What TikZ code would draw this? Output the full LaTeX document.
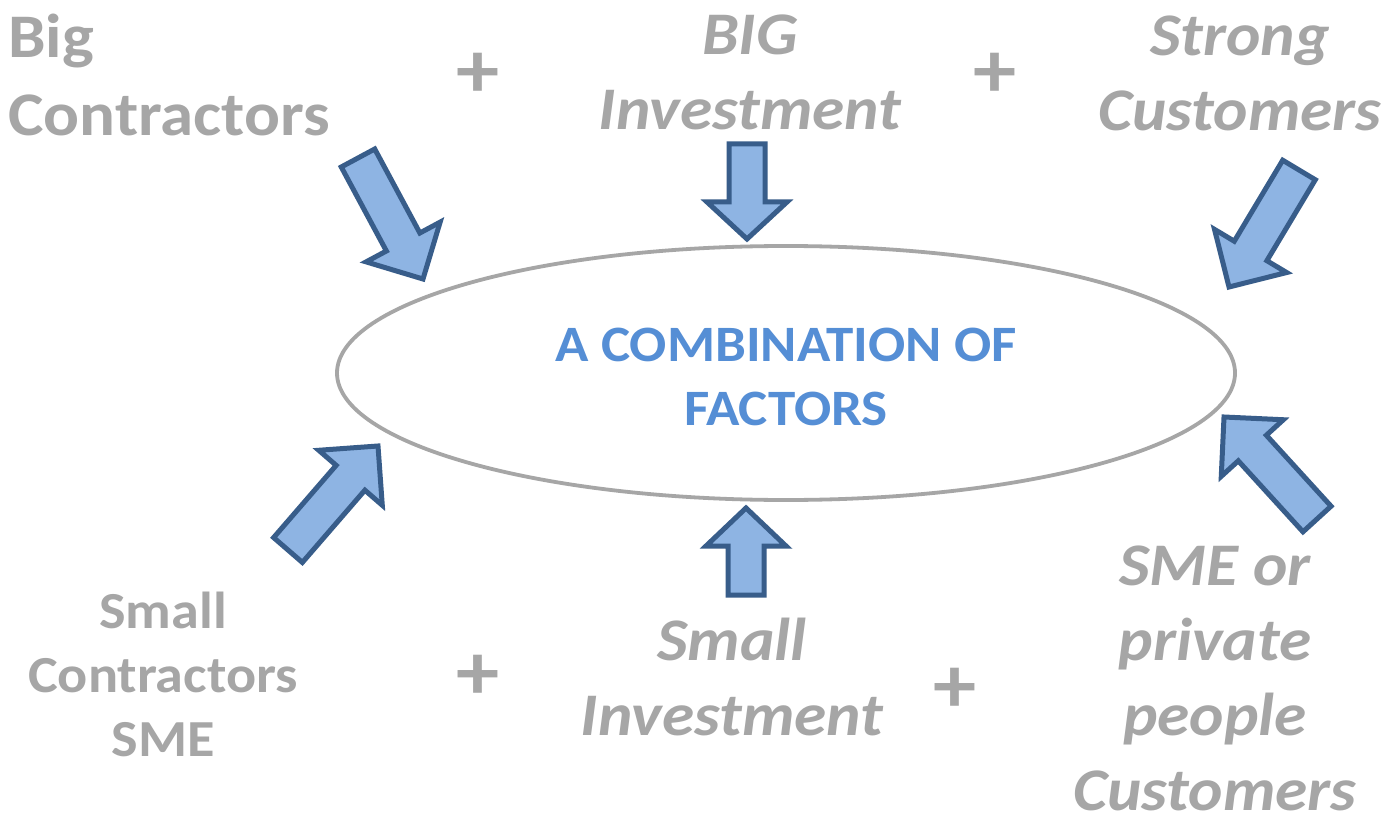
\documentclass[tikz,border=0pt]{standalone}
\usepackage{fontspec}
\setmainfont{Carlito}[FakeStretch=1.08]
\usetikzlibrary{shapes.geometric,calc}
\definecolor{txtgray}{HTML}{A6A6A6}
\definecolor{ovalgray}{HTML}{A6A6A6}
\definecolor{titleblue}{HTML}{558ED5}
\definecolor{arrowfill}{HTML}{8EB4E3}
\definecolor{arrowline}{HTML}{385D8A}
\tikzset{
  blockarrow/.style={fill=arrowfill, draw=arrowline, line width=5pt, line join=miter},
  lbl/.style={text=txtgray, font=\bfseries\fontsize{62}{78}\selectfont, align=center, inner sep=0pt},
  lblit/.style={lbl, font=\bfseries\itshape\fontsize{60.5}{75}\selectfont},
  lblsmall/.style={lbl, font=\bfseries\fontsize{52}{64}\selectfont},
  plus/.style={text=txtgray, font=\bfseries\fontsize{80}{80}\selectfont, inner sep=0pt},
  oval/.style={ellipse, draw=ovalgray, line width=3.8pt, minimum width=898pt, minimum height=254pt, inner sep=0pt},
  title/.style={align=center, inner sep=0pt, text=titleblue, font=\bfseries\fontsize{51}{64}\selectfont}
}
\newcommand\blkarrow[5]{%
  \coordinate (#1b) at ($(#2)!#5!(#1)$);
  \draw[blockarrow] ($(#1)!#3!90:(#2)$) -- ($(#1b)!#3!90:(#2)$) -- ($(#1b)!#4!90:(#2)$) -- (#2)
    -- ($(#1b)!#4!-90:(#2)$) -- ($(#1b)!#3!-90:(#2)$) -- ($(#1)!#3!-90:(#2)$) -- cycle;
}
\begin{document}
\begin{tikzpicture}[x=1pt,y=-1pt]
\useasboundingbox (0,0) rectangle (1383,818);
\fill[white] (0,0) rectangle (1383,818);

\node[oval] (comb) at (786,373) {};
\node[title] (combtext) at (786,377) {A COMBINATION OF\\FACTORS};

\node[lbl, align=left, anchor=west] (bigc) at (8,75) {Big\\Contractors};
\node[plus] (p1) at (478,75) {+};
\node[lblit] (biginv) at (750,72) {BIG\\Investment};
\node[plus] (p2) at (995,75) {+};
\node[lblit] (strong) at (1240,73) {Strong\\Customers};

\node[lblsmall] (smallc) at (163,674) {Small\\Contractors\\SME};
\node[plus] (p3) at (478,677) {+};
\node[lblit] (smallinv) at (732,677) {Small\\Investment};
\node[plus] (p4) at (955,690) {+};
\node[lblit] (sme) at (1215,678) {SME or\\private\\people\\Customers};

\coordinate (a1t) at (358,158); \coordinate (a1p) at (423,279);
\coordinate (a2t) at (747,144); \coordinate (a2p) at (747,239);
\coordinate (a3t) at (1299,170); \coordinate (a3p) at (1229,287);
\coordinate (a4t) at (288,550); \coordinate (a4p) at (378,446);
\coordinate (a5t) at (746,595); \coordinate (a5p) at (746,508);
\coordinate (a6t) at (1317,519); \coordinate (a6p) at (1224,417);

\blkarrow{a1t}{a1p}{19pt}{42pt}{42pt}
\blkarrow{a2t}{a2p}{18pt}{40pt}{37pt}
\blkarrow{a3t}{a3p}{19pt}{42pt}{42pt}
\blkarrow{a4t}{a4p}{19pt}{42pt}{42pt}
\blkarrow{a5t}{a5p}{18pt}{40pt}{38pt}
\blkarrow{a6t}{a6p}{19pt}{42pt}{42pt}
\end{tikzpicture}
\end{document}
